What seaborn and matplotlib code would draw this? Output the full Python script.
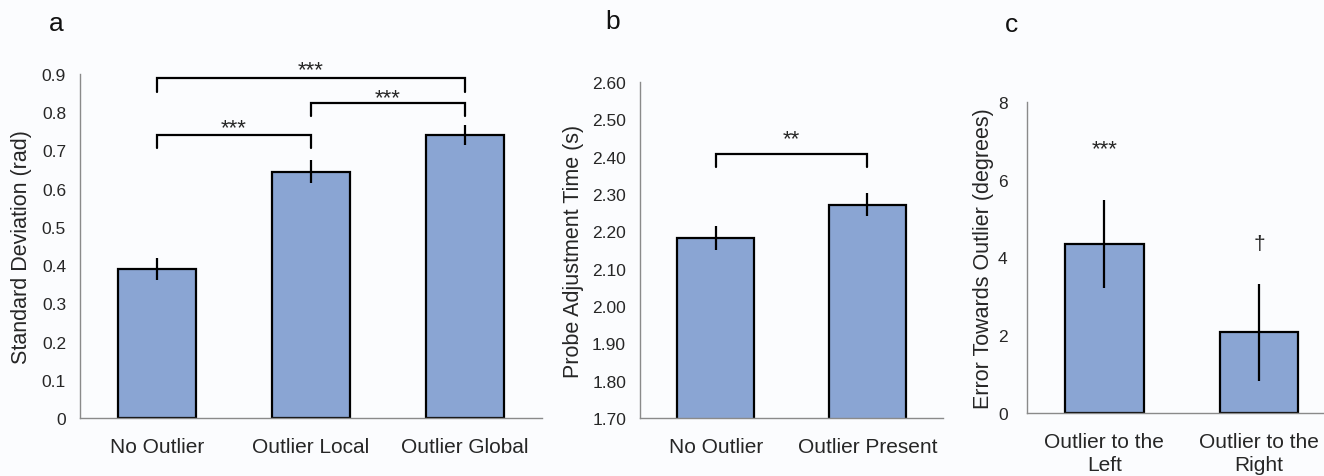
import matplotlib
matplotlib.use("Agg")
import matplotlib.pyplot as plt
import seaborn as sns
import pandas as pd

# panel a
cond_a = ["No Outlier", "Outlier Local", "Outlier Global"]
sd_a = [0.389, 0.644, 0.740]
err_a = [0.029, 0.030, 0.026]

# panel b
cond_b = ["No Outlier", "Outlier Present"]
time_b = [2.182, 2.271]
err_b = [0.031, 0.031]

# panel c
cond_c = ["Outlier to the\nLeft", "Outlier to the\nRight"]
bias_c = [4.35, 2.08]
err_c = [1.14, 1.25]

bar_col = "#8aa5d3"
bg = "#fbfcfe"
txt_col = "#262626"

sns.set_theme(style="white")
plt.rcParams["font.family"] = ["Liberation Sans", "DejaVu Sans"]

fig = plt.figure(figsize=(13.24, 4.77), dpi=100, facecolor=bg)
W, H = 1324, 477


def mkax(l, r, t, b):
    return fig.add_axes([l / W, (H - b) / H, (r - l) / W, (b - t) / H])


def draw(ax, cats, vals, errs, ypad=10):
    df = pd.DataFrame({"cond": cats, "val": vals})
    sns.barplot(data=df, x="cond", y="val", color=bar_col, width=0.51,
                edgecolor="black", linewidth=1.6, saturation=1, ax=ax)
    ax.errorbar(x=range(len(vals)), y=vals, yerr=errs, fmt="none",
                ecolor="black", elinewidth=1.6, capsize=0)
    ax.set_facecolor(bg)
    ax.set_xlabel("")
    ax.set_xlim(-0.5, len(cats) - 0.5)
    for s in ["top", "right"]:
        ax.spines[s].set_visible(False)
    for s in ["left", "bottom"]:
        ax.spines[s].set_color("#8a8a8a")
        ax.spines[s].set_linewidth(1.0)
    ax.tick_params(axis="y", length=0, labelsize=12.5, colors=txt_col, pad=ypad)
    ax.tick_params(axis="x", length=0, pad=14, labelsize=15, colors=txt_col)


def bracket(ax, x1, x2, y, leg, txt, ty):
    ax.plot([x1, x1, x2, x2], [y - leg, y, y, y - leg], color="black", lw=1.6,
            solid_joinstyle="miter", clip_on=False)
    ax.text((x1 + x2) / 2, ty, txt, ha="center", va="center", fontsize=16, clip_on=False)


# a
ax1 = mkax(80, 542, 75, 419)
draw(ax1, cond_a, sd_a, err_a)
ax1.set_ylim(0, 0.9)
ax1.set_yticks([i / 10 for i in range(10)])
ax1.set_yticklabels(["0"] + [f"{i / 10:.1f}" for i in range(1, 10)])
ax1.set_ylabel("Standard Deviation (rad)", fontsize=15.5, color=txt_col, labelpad=7)
bracket(ax1, 0, 2, 0.889, 0.035, "***", 0.910)
bracket(ax1, 1, 2, 0.824, 0.033, "***", 0.838)
bracket(ax1, 0, 1, 0.741, 0.035, "***", 0.760)

# b
ax2 = mkax(640, 943, 83, 419)
draw(ax2, cond_b, time_b, err_b)
ax2.set_ylim(1.70, 2.60)
ax2.set_yticks([1.70 + i / 10 for i in range(10)])
ax2.set_yticklabels([f"{1.70 + i / 10:.2f}" for i in range(10)])
ax2.set_ylabel("Probe Adjustment Time (s)", fontsize=15.5, color=txt_col, labelpad=6)
bracket(ax2, 0, 1, 2.408, 0.036, "**", 2.448)

# c
ax3 = mkax(1027, 1324, 103, 414)
draw(ax3, cond_c, bias_c, err_c, ypad=14)
ax3.set_xlim(-0.5, 1.42)
ax3.set_ylim(0, 8)
ax3.set_yticks([0, 2, 4, 6, 8])
ax3.set_ylabel("Error Towards Outlier (degrees)", fontsize=15.5, color=txt_col, labelpad=3)
for lab in ax3.get_xticklabels():
    lab.set_linespacing(1.25)
ax3.text(0, 6.80, "***", ha="center", va="center", fontsize=16)
ax3.text(1, 4.35, "\u2020", ha="center", va="center", fontsize=15)

fig.text(56 / W, 1 - 24 / H, "a", fontsize=19, ha="center", va="center", color="#111111")
fig.text(613 / W, 1 - 22 / H, "b", fontsize=19, ha="center", va="center", color="#111111")
fig.text(1012 / W, 1 - 25 / H, "c", fontsize=19, ha="center", va="center", color="#111111")

fig.savefig("out.png", dpi=100, facecolor=bg)
